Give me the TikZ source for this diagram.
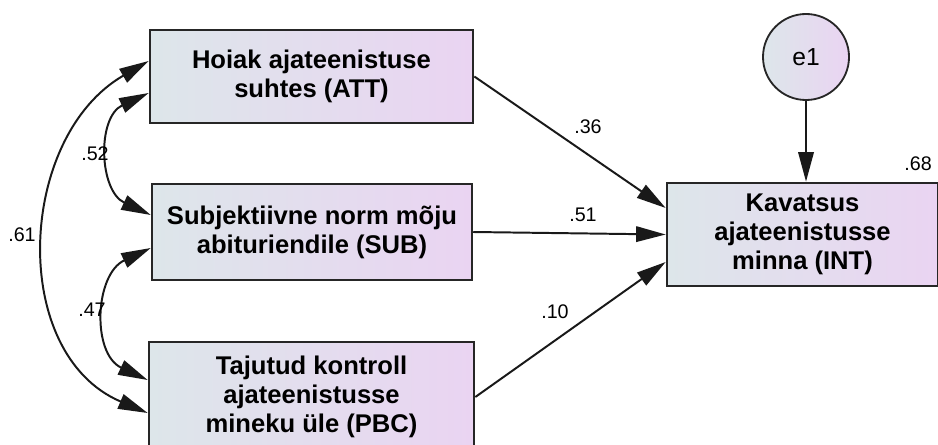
\documentclass[tikz,border=0pt]{standalone}
\usepackage{fontspec}
\setmainfont{Liberation Sans}
\usetikzlibrary{calc,arrows.meta}
\definecolor{boxleft}{HTML}{DDE6EA}
\definecolor{boxright}{HTML}{EAD4F2}
\tikzset{>={Triangle[length=21pt,width=11pt]},
  var/.style={draw=black!85,line width=1.7pt,left color=boxleft,right color=boxright,
    align=center,inner sep=0pt,font=\bfseries\fontsize{18.2}{20.6}\selectfont},
  coef/.style={font=\fontsize{14}{16}\selectfont},
  path/.style={->,line width=1.4pt,black!90}}

\begin{document}
\begin{tikzpicture}[x=0.025cm,y=0.025cm]
  \useasboundingbox (0,0) rectangle (938,-445);
  % observed variables
  \node[var,minimum width=8.08cm,minimum height=2.33cm] (ATT) at (311.5,-76.5)
    {Hoiak ajateenistuse\\suhtes (ATT)};
  \node[var,minimum width=8.0cm,minimum height=2.4cm] (SUB) at (312,-232)
    {Subjektiivne norm mõju\\abituriendile (SUB)};
  \node[var,minimum width=8.13cm,minimum height=2.75cm] (PBC) at (311.5,-397)
    {Tajutud kontroll\\ajateenistusse\\mineku üle (PBC)};
  \node[var,minimum width=6.78cm,minimum height=2.58cm] (INT) at (802.5,-234.5)
    {Kavatsus\\ajateenistusse\\minna (INT)};
  \node[var,circle,minimum size=2.15cm,line width=1.3pt,
    font=\fontsize{17.5}{20}\selectfont] (e1) at (806,-57) {e1};
  % regressions
  \draw[path] (ATT.east) -- ($(INT.west)+(0,26.5)$);
  \draw[path] (SUB.east) -- (INT.west);
  \draw[path] (PBC.east) -- ($(INT.west)+(0,-27.5)$);
  \draw[path] (e1.south) -- (e1.south |- INT.north);
  % covariances
  \begin{scope}[path,<->]
    \draw ($(ATT.west)+(0,-16.5)$) to[out=205,in=155,looseness=1.2] ($(SUB.west)+(0,17)$);
    \draw ($(SUB.west)+(0,-16)$) to[out=205,in=155,looseness=1.2] ($(PBC.west)+(0,17)$);
    \draw ($(ATT.west)+(0,15.5)$) to[out=210,in=157,looseness=1.1] ($(PBC.west)+(0,-16)$);
  \end{scope}
  % estimates
  \node[coef] (c36) at (588,-127) {.36};
  \node[coef] (c51) at (583,-215) {.51};
  \node[coef] (c10) at (555,-312) {.10};
  \node[coef] (c68) at (918,-164) {.68};
  \node[coef] (c52) at (95,-154) {.52};
  \node[coef] (c47) at (92,-310) {.47};
  \node[coef] (c61) at (22,-235) {.61};
\end{tikzpicture}
\end{document}
